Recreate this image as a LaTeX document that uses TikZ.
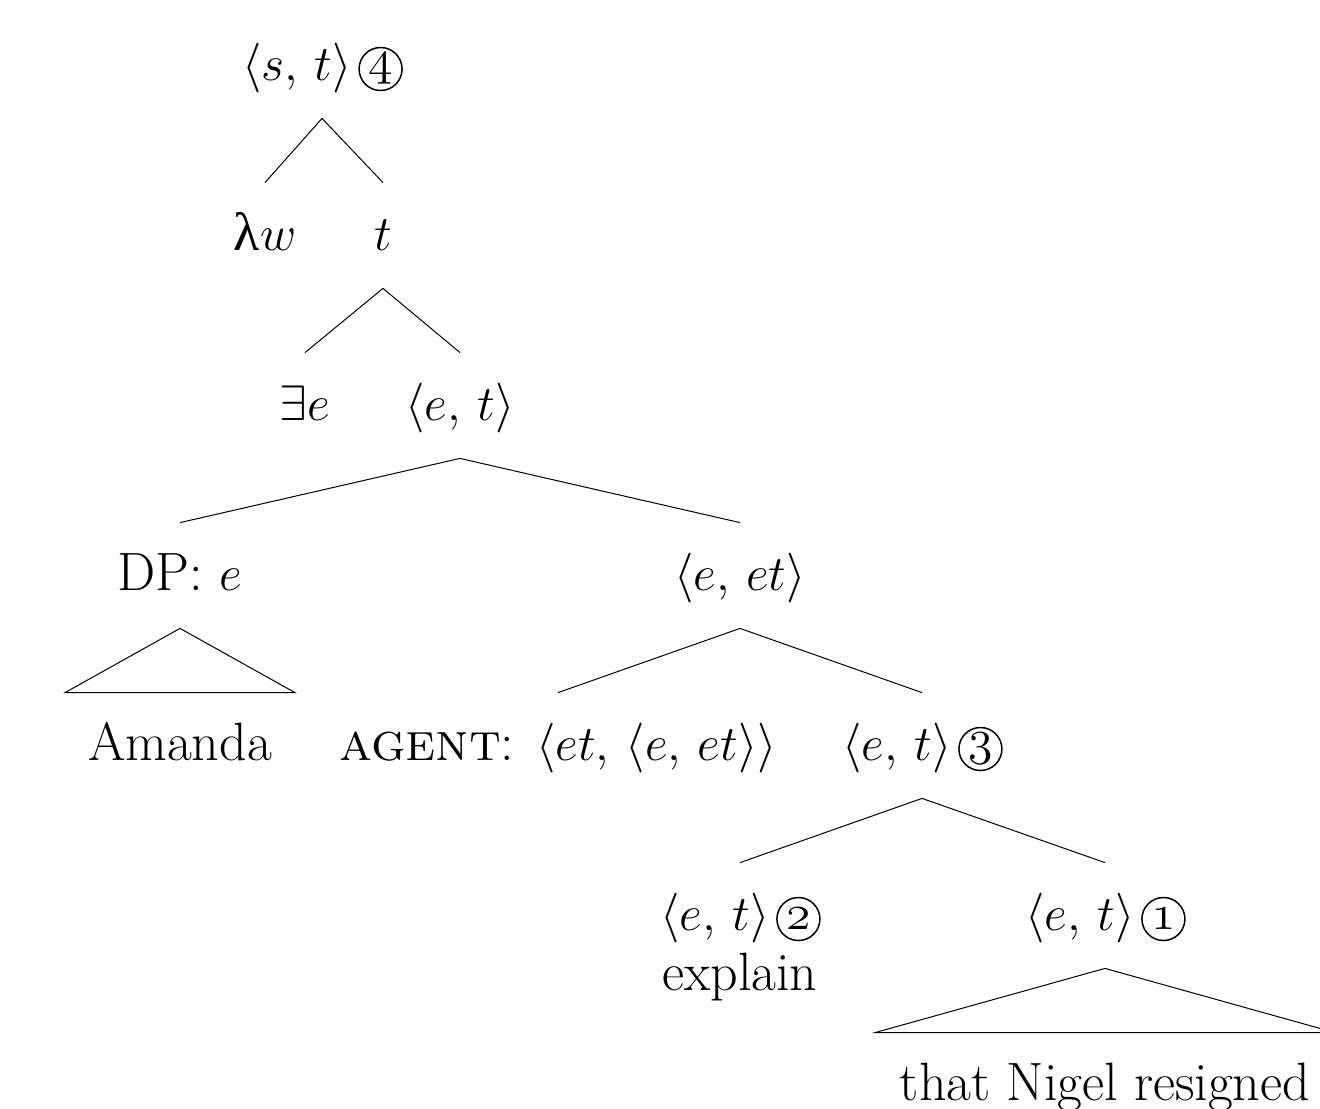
\documentclass[tikz,border=0pt]{standalone}
\usepackage{fontspec}
\newfontfamily\lamfont{Liberation Serif}
\usetikzlibrary{calc}
% old-style digits from the math italic font
\newcommand\osnum[1]{{\usefont{OML}{cmm}{m}{it}#1}}
% room kept free after a type for its circled step number
\newcommand\numroom{\rule{25pt}{0pt}}
\begin{document}
\begin{tikzpicture}[x=0.5pt,y=-0.5pt,
  lbl/.style={inner sep=0pt, anchor=base, text height=33.5pt, text depth=19pt,
    font=\fontsize{27}{32}\selectfont},
  cnum/.style={draw, circle, line width=0.75pt, minimum size=21.5pt, inner sep=0pt,
    font=\fontsize{27}{27}\selectfont, anchor=center},
  branch/.style={line width=0.5pt}]
\useasboundingbox (0,0) rectangle (1320,1108);

% labels (placed on their baselines)
\node[lbl] (r) at (322,80) {$\langle s,\,t\rangle$\numroom};
\node[cnum] (c4) at ($(r.base east)+(-21.5,-11)$) {\osnum{4}};
\node[lbl] (lw) at (265,250) {{\lamfont λ}$w$};
\node[lbl] (t) at (383,250) {$t$};
\node[lbl] (ex) at (305,420) {$\exists e$};
\node[lbl] (et) at (460,420) {$\langle e,\,t\rangle$};
\node[lbl] (dp) at (180,590) {DP: $e$};
\node[lbl] (eet) at (740,590) {$\langle e,\,et\rangle$};
\node[lbl] (am) at (180,760) {Amanda};
\node[lbl] (ag) at (558,760) {\textsc{agent}: $\langle et,\,\langle e,\,et\rangle\rangle$};
\node[lbl] (e3) at (922,760) {$\langle e,\,t\rangle$\numroom};
\node[cnum] (c3) at ($(e3.base east)+(-21.5,-11)$) {\osnum{3}};
\node[lbl] (e2) at (740,930) {$\langle e,\,t\rangle$\numroom};
\node[cnum] (c2) at ($(e2.base east)+(-21.5,-11)$) {\osnum{2}};
\node[lbl] (xp) at (740,990) {explain};
\node[lbl] (e1) at (1105,930) {$\langle e,\,t\rangle$\numroom};
\node[cnum] (c1) at ($(e1.base east)+(-21.5,-11)$) {\osnum{1}};
\node[lbl] (ng) at (1105,1100) {that Nigel resigned};

% branches
\draw[branch] (r.south) -- (lw.north);
\draw[branch] (r.south) -- (t.north);
\draw[branch] (t.south) -- (ex.north);
\draw[branch] (t.south) -- (et.north);
\draw[branch] (et.south) -- (dp.north);
\draw[branch] (et.south) -- (eet.north);
\draw[branch] (eet.south) -- (ag.north);
\draw[branch] (eet.south) -- (e3.north);
\draw[branch] (e3.south) -- (e2.north);
\draw[branch] (e3.south) -- (e1.north);

% roof triangles over unanalysed constituents
\draw[branch] (dp.south) -- ($(am.north)+(-115,0)$) -- ($(am.north)+(115,0)$) -- cycle;
\draw[branch] (e1.south) -- ($(ng.north)+(-230,0)$) -- ($(ng.north)+(230,0)$) -- cycle;
\end{tikzpicture}
\end{document}
